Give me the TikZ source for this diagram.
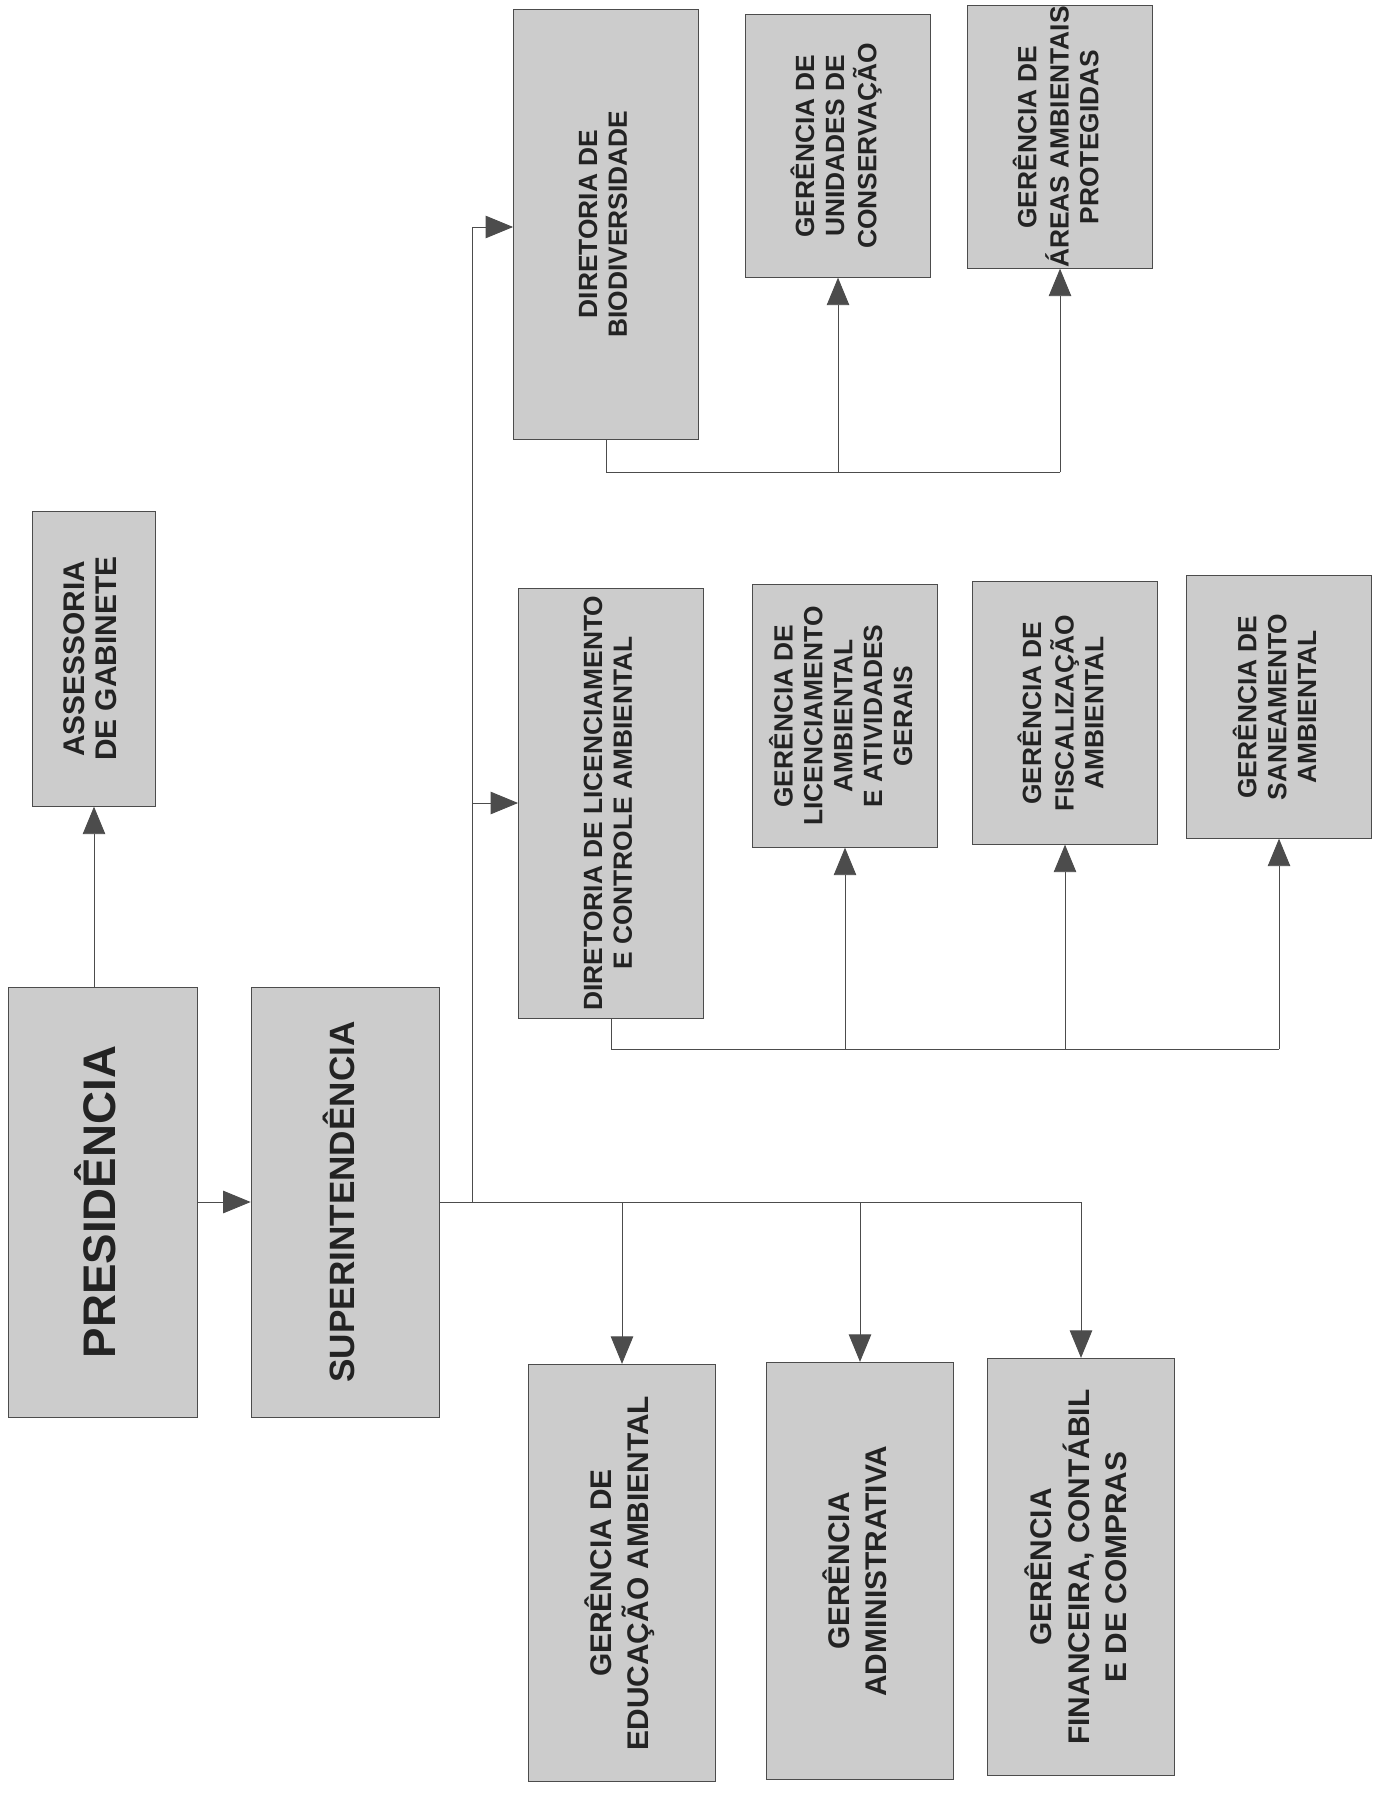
\documentclass[tikz,border=0pt]{standalone}
\usepackage{fontspec}
\setmainfont{Liberation Sans}
\usepackage{graphicx}
\usetikzlibrary{positioning,arrows.meta}
\definecolor{boxgray}{RGB}{204,204,204}
\definecolor{inkgray}{RGB}{35,35,35}
\newcommand{\vtxt}[1]{\rotatebox{90}{\begin{tabular}{@{}c@{}}#1\end{tabular}}}

\begin{document}
\begin{tikzpicture}[%
    x=0.02cm, y=-0.02cm,
    >={Triangle[length=5.5mm,width=4.5mm]},
    line width=0.5pt,
    unit/.style={%
      rectangle,
      draw=black!70,
      fill=boxgray,
      text=inkgray,
      inner sep=0pt
    },
    headbox/.style={unit, minimum width=3.77cm, minimum height=8.6cm},
    dirbox/.style={%
      unit,
      minimum width=3.7cm,
      minimum height=8.6cm,
      font=\fontsize{15}{17}\selectfont\bfseries
    },
    gerbox/.style={%
      unit,
      minimum width=3.7cm,
      minimum height=5.25cm,
      font=\fontsize{15}{17}\selectfont\bfseries
    },
    lowbox/.style={%
      unit,
      minimum width=3.75cm,
      minimum height=8.35cm,
      font=\fontsize{17}{21}\selectfont\bfseries
    },
    link/.style={draw=black!70}
  ]
    \useasboundingbox (0,0) rectangle (1386,1804);

    % direcao
    \node[headbox, font=\fontsize{26}{30}\selectfont\bfseries] (pres) at (103,1202) {\vtxt{PRESIDÊNCIA}};
    \node[headbox, font=\fontsize{20}{24}\selectfont\bfseries] (super) [right=1.06cm of pres] {\vtxt{SUPERINTENDÊNCIA}};
    \node[unit, minimum width=2.46cm, minimum height=5.9cm,
          font=\fontsize{17}{18}\selectfont\bfseries] (ass) [above=3.6cm of pres, xshift=-0.18cm] {\vtxt{ASSESSORIA\\DE GABINETE}};

    % diretorias e gerencias
    \node[dirbox] (bio)  at (606,224)  {\vtxt{DIRETORIA DE\\BIODIVERSIDADE}};
    \node[gerbox] (guc)  at (838,146)  {\vtxt{GERÊNCIA DE\\UNIDADES DE\\CONSERVAÇÃO}};
    \node[gerbox] (gaap) at (1060,137) {\vtxt{GERÊNCIA DE\\ÁREAS AMBIENTAIS\\PROTEGIDAS}};

    \node[dirbox] (dlic) at (611,803)  {\vtxt{DIRETORIA DE LICENCIAMENTO\\E CONTROLE AMBIENTAL}};
    \node[gerbox] (glic) at (845,716)  {\vtxt{GERÊNCIA DE\\LICENCIAMENTO\\AMBIENTAL\\E ATIVIDADES\\GERAIS}};
    \node[gerbox] (gfis) at (1065,713) {\vtxt{GERÊNCIA DE\\FISCALIZAÇÃO\\AMBIENTAL}};
    \node[gerbox] (gsan) at (1279,707) {\vtxt{GERÊNCIA DE\\SANEAMENTO\\AMBIENTAL}};

    \node[lowbox] (gedu) at (622,1573) {\vtxt{GERÊNCIA DE\\EDUCAÇÃO AMBIENTAL}};
    \node[lowbox] (gadm) at (860,1571) {\vtxt{GERÊNCIA\\ADMINISTRATIVA}};
    \node[lowbox] (gfin) at (1081,1567) {\vtxt{GERÊNCIA\\FINANCEIRA, CONTÁBIL\\E DE COMPRAS}};

    \coordinate (jb) at (472,227);

    % ligacoes
    \draw[link,->] (pres.north -| ass.south) -- (ass.south);
    \draw[link,->] (pres.east) -- (pres.east -| super.west);
    \draw[link] (super.east) -- (super.east -| gfin.north);
    \draw[link] (super.east -| jb) -- (jb);
    \draw[link,->] (jb) -- (jb -| bio.west);
    \draw[link,->] (dlic.west -| jb) -- (dlic.west);
    \foreach \g in {gedu,gadm,gfin}
      \draw[link,->] (super.east -| \g.north) -- (\g.north);

    \draw[link] (bio.south) -- ++(0,33) coordinate (bb) -- (bb -| gaap.south);
    \foreach \g in {guc,gaap}
      \draw[link,->] (bb -| \g.south) -- (\g.south);

    \draw[link] (dlic.south) -- ++(0,31) coordinate (lb) -- (lb -| gsan.south);
    \foreach \g in {glic,gfis,gsan}
      \draw[link,->] (lb -| \g.south) -- (\g.south);
  \end{tikzpicture}
\end{document}
